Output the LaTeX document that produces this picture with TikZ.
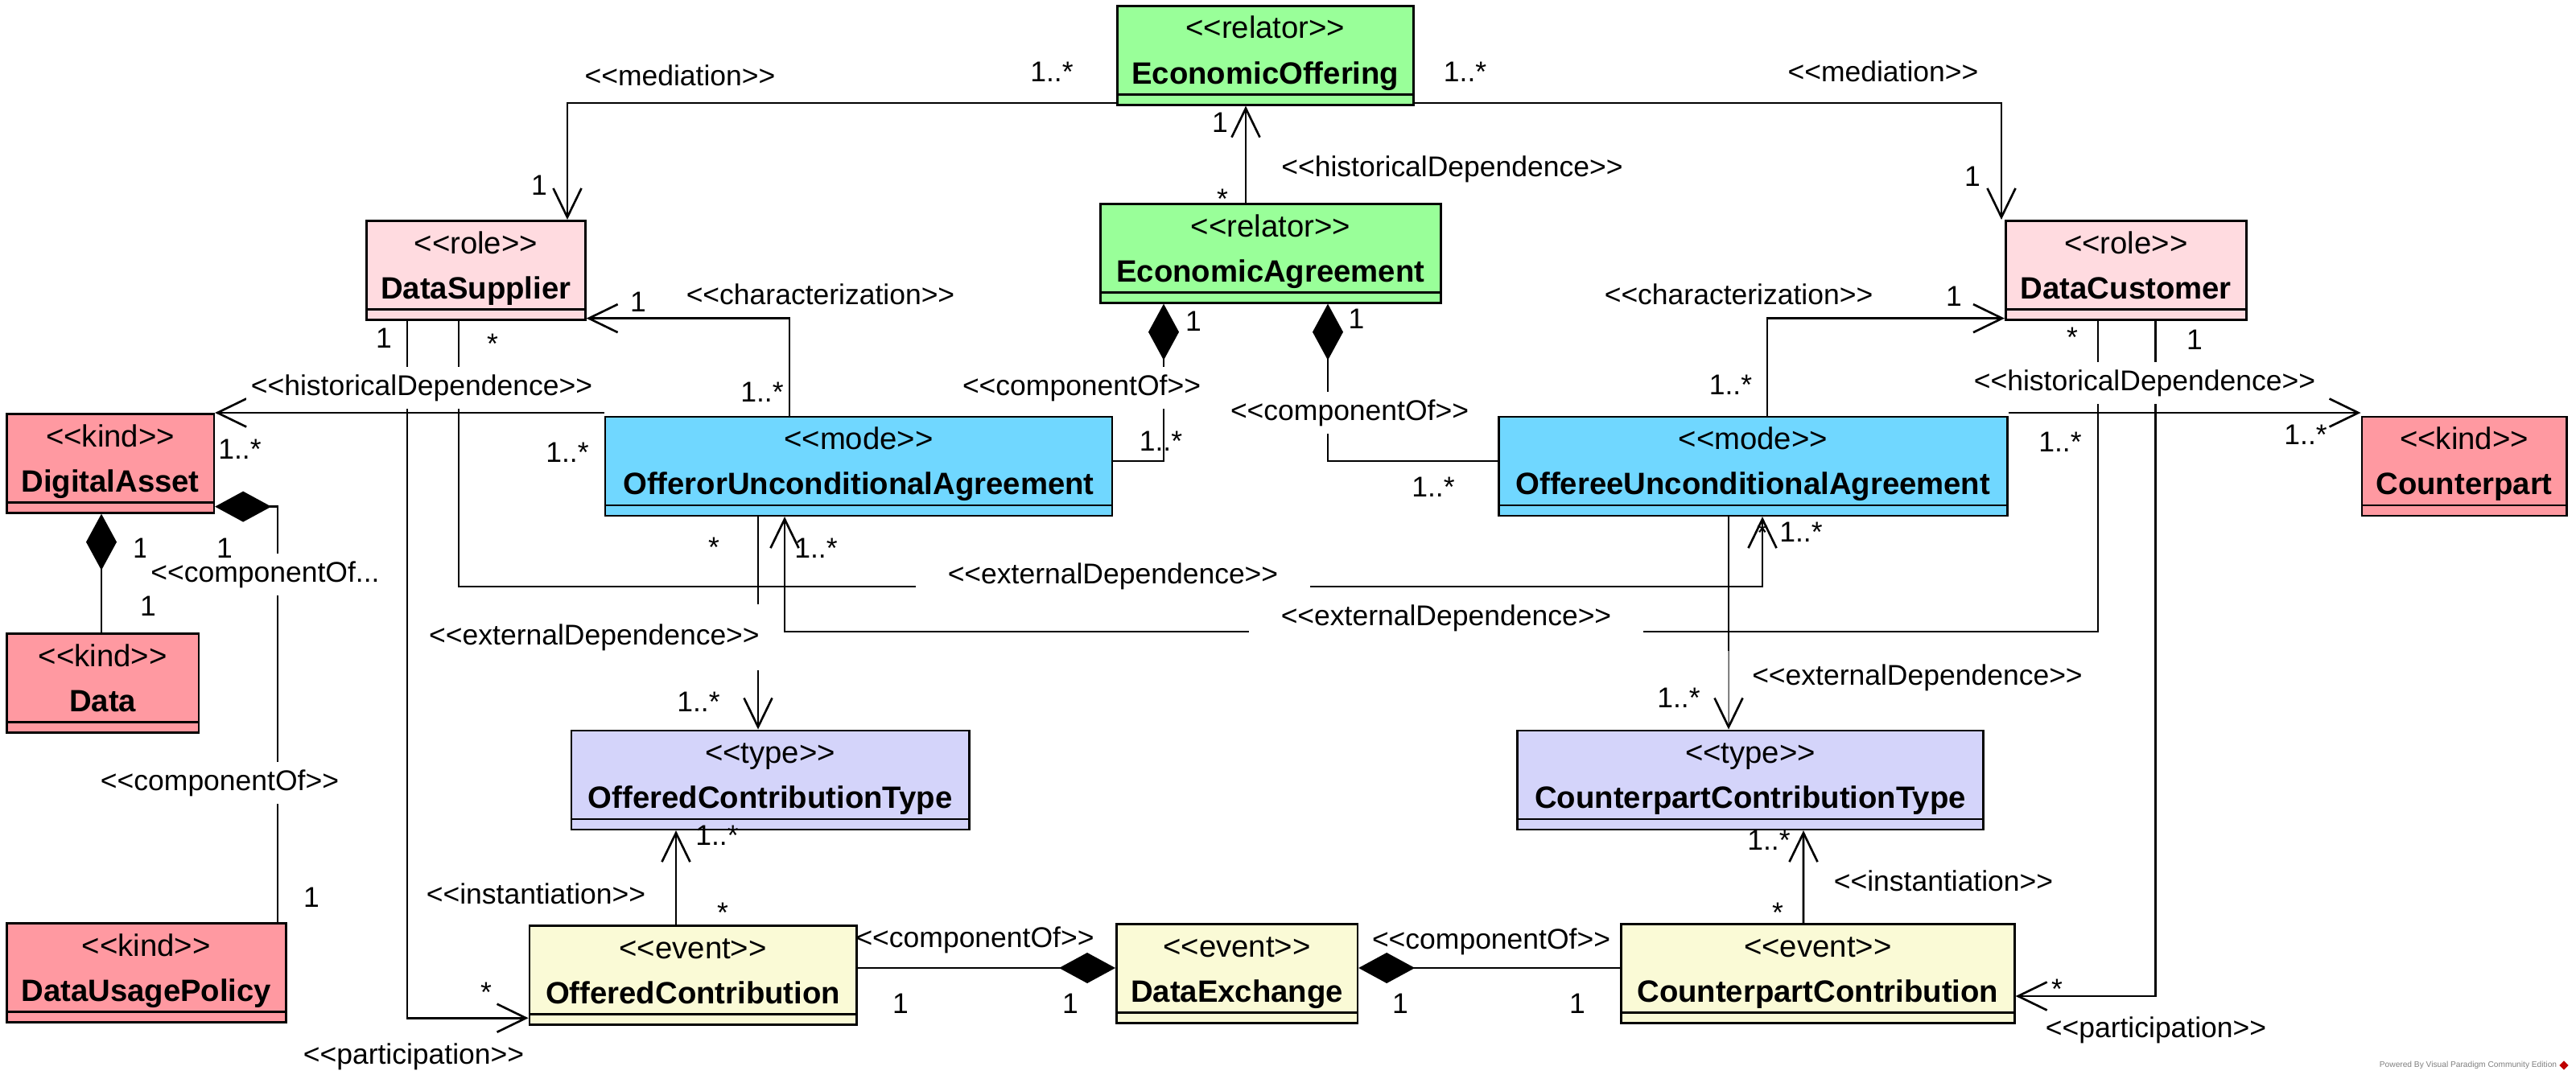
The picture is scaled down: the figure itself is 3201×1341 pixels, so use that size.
\documentclass[tikz,border=0pt]{standalone}
\usepackage{fontspec}
\setmainfont{Liberation Sans}[Ligatures=TeXOff]
\usetikzlibrary{arrows.meta,calc}

\definecolor{relgreen}{RGB}{153,255,153}
\definecolor{rolepink}{RGB}{255,219,224}
\definecolor{kindred}{RGB}{255,153,161}
\definecolor{modeblue}{RGB}{112,215,255}
\definecolor{typelav}{RGB}{212,212,250}
\definecolor{eventyel}{RGB}{250,250,214}

\tikzset{
  umlbox/.style={draw, line width=0.75pt, rectangle, inner sep=0pt,
    minimum height=12.3mm, anchor=north west},
  boxline/.style={line width=0.75pt},
  stereo/.style={anchor=base, inner sep=0pt, font=\fontsize{10.9pt}{12pt}\selectfont},
  clsname/.style={anchor=base, inner sep=0pt, font=\fontsize{10.9pt}{12pt}\selectfont\bfseries},
  conn/.style={line width=0.75pt},
  navig/.style={-{Straight Barb[length=3.6mm,width=3.5mm]}},
  compos/.style={{Diamond[length=7mm,width=3.8mm]}-},
  lbl/.style={inner sep=0pt, font=\fontsize{10.1pt}{12pt}\selectfont},
  cut/.style={fill=white, inner xsep=0.6mm, inner ysep=0.9mm},
  cutwide/.style={fill=white, inner xsep=4mm, inner ysep=0.8mm},
  cuttall/.style={fill=white, inner xsep=0.6mm, inner ysep=2.4mm},
}

% class box: name, left x, top y, width, fill, stereotype, title
\newcommand\umlclass[7]{%
  \node[umlbox,fill=#5,minimum width=#4*0.1mm] (#1) at (#2,#3) {};
  \draw[boxline] ([yshift=1.4mm]#1.south west) -- ([yshift=1.4mm]#1.south east);
  \node[stereo] (#1-st) at ([yshift=-4.2mm]#1.north) {<<#6>>};
  \node[clsname] (#1-nm) at ([yshift=-9.8mm]#1.north) {#7};
}

\begin{document}
\begin{tikzpicture}[x=0.1mm,y=-0.1mm]
\useasboundingbox[fill=white] (0,0) rectangle (3201,1341);

% ---- classes ----
\umlclass{EO}{1387}{6}{368}{relgreen}{relator}{EconomicOffering}
\umlclass{EA}{1366}{252}{423}{relgreen}{relator}{EconomicAgreement}
\umlclass{DS}{454}{273}{272}{rolepink}{role}{DataSupplier}
\umlclass{DC}{2491}{273}{299}{rolepink}{role}{DataCustomer}
\umlclass{DA}{7}{513}{257.5}{kindred}{kind}{DigitalAsset}
\umlclass{OU}{750.6}{516.5}{630}{modeblue}{mode}{OfferorUnconditionalAgreement}
\umlclass{EU}{1861}{516.5}{632}{modeblue}{mode}{OffereeUnconditionalAgreement}
\umlclass{CP}{2933.5}{516.5}{254.5}{kindred}{kind}{Counterpart}
\umlclass{DT}{7}{786}{238.5}{kindred}{kind}{Data}
\umlclass{OCT}{708.5}{906.5}{494.5}{typelav}{type}{OfferedContributionType}
\umlclass{CCT}{1884.4}{906.5}{578.6}{typelav}{type}{CounterpartContributionType}
\umlclass{DUP}{7}{1146}{347}{kindred}{kind}{DataUsagePolicy}
\umlclass{OC}{656.6}{1149}{406.4}{eventyel}{event}{OfferedContribution}
\umlclass{DX}{1386}{1147}{299.5}{eventyel}{event}{DataExchange}
\umlclass{CC}{2013}{1147}{489}{eventyel}{event}{CounterpartContribution}

% ---- mediation ----
\draw[conn,navig] ($(EO.south west)+(0,-3.5)$) -| ($(DS.north west)+(251,0)$);
\draw[conn,navig] ($(EO.south east)+(0,-3.5)$) -| ($(DC.north west)+(-4,0)$);

% ---- historical dependence ----
\draw[conn,navig] ($(EA.north west)+(182,0)$) -- ($(EO.south west)+(161,0)$);
\draw[conn,navig] ($(OU.north west)+(0,-3.5)$) -- (DA.north east);
\draw[conn,navig] ($(EU.north east)+(0,-3.5)$) -- ($(CP.north west)+(0,-3.5)$);

% ---- componentOf ----
\draw[conn,compos] ($(EA.south west)+(80,0)$) |- ($(OU.north east)+(0,56.5)$);
\draw[conn,compos] ($(EA.south west)+(284,0)$) |- ($(EU.north west)+(0,56.5)$);
\draw[conn,compos] ($(DX.north west)+(0,56)$) -- ($(OC.north east)+(0,54)$);
\draw[conn,compos] ($(DX.north east)+(0,56)$) -- ($(CC.north west)+(0,56)$);
\draw[conn,compos] ($(DA.south west)+(119,0)$) -- ($(DT.north west)+(119,0)$);
\draw[conn,compos] ($(DA.south east)+(0,-9)$) -| ($(DUP.north west)+(338,0)$);

% ---- characterization ----
\draw[conn,navig] ($(OU.north west)+(230.4,0)$) |- ($(DS.south east)+(0,-3)$);
\draw[conn,navig] ($(EU.north west)+(335,0)$) |- ($(DC.south west)+(0,-3)$);

% ---- participation ----
\draw[conn,navig] ($(DS.south west)+(52,0)$) |- ($(OC.south west)+(0,-9.4)$);
\draw[conn,navig] ($(DC.south west)+(187.6,0)$) |- ($(CC.north east)+(0,91)$);

% ---- external dependence ----
\draw[conn,navig] ($(DS.south west)+(116,0)$) |- ($(EU.south west)+(329,87)$) -- ($(EU.south west)+(329,0)$);
\draw[conn,navig] ($(DC.south west)+(116,0)$) |- ($(OU.south west)+(224.4,143)$) -- ($(OU.south west)+(224.4,0)$);
\draw[conn,navig] ($(OU.south west)+(191.4,0)$) -- ($(OCT.north west)+(233.5,0)$);
\draw[line width=0.3pt,-{Straight Barb[length=3.6mm,width=3.5mm,line width=0.75pt]}]
  ($(EU.south west)+(287,0)$) -- ($(CCT.north west)+(263.6,0)$);
\draw[conn] ($(EU.south west)+(287,0)$) -- ($(EU.south west)+(287,167)$);

% ---- instantiation ----
\draw[conn,navig] ($(OC.north west)+(183.4,0)$) -- ($(OCT.south west)+(131.5,0)$);
\draw[conn,navig] ($(CC.north west)+(228,0)$) -- ($(CCT.south west)+(356.6,0)$);

% ---- connector labels and multiplicities ----
\node[lbl] (mlA) at (1307,89) {1..*};
\node[lbl] (mlB) at (670,230) {1};
\node[lbl] (mlC) at (845,94) {<<mediation>>};
\node[lbl] (mrA) at (1820.6,89) {1..*};
\node[lbl] (mrB) at (2451,219) {1};
\node[lbl] (mrC) at (2340,89) {<<mediation>>};

\node[lbl] (hEA) at (1516,152) {1};
\node[lbl] (hEB) at (1519,247) {*};
\node[lbl] (hEC) at (1804.5,210) {<<historicalDependence>>};

\node[lbl] (cLA) at (1483,399) {1};
\node[lbl] (cLB) at (1442.5,548) {1..*};
\node[lbl,cut] (cLC) at (1344,482) {<<componentOf>>};
\node[lbl] (cRA) at (1685.5,396) {1};
\node[lbl] (cRB) at (1781,605) {1..*};
\node[lbl,cut] (cRC) at (1677,513) {<<componentOf>>};

\node[lbl] (chLA) at (793,375) {1};
\node[lbl] (chLB) at (947,487) {1..*};
\node[lbl] (chLC) at (1019.5,366) {<<characterization>>};
\node[lbl] (chRA) at (2428,368) {1};
\node[lbl] (chRB) at (2150.5,478) {1..*};
\node[lbl] (chRC) at (2160.5,366) {<<characterization>>};

\node[lbl] (hLA) at (298,558) {1..*};
\node[lbl] (hLB) at (705,562) {1..*};
\node[lbl,cut] (hLC) at (524,482) {<<historicalDependence>>};
\node[lbl] (hRA) at (2560,549) {1..*};
\node[lbl] (hRB) at (2865,540) {1..*};
\node[lbl,cut] (hRC) at (2665,476) {<<historicalDependence>>};

\node[lbl] (pLA) at (477,420) {1};
\node[lbl] (pLB) at (604,1233) {*};
\node[lbl] (pLC) at (514,1313) {<<participation>>};
\node[lbl] (pRA) at (2727,422) {1};
\node[lbl] (pRB) at (2556,1229) {*};
\node[lbl] (pRC) at (2679,1280) {<<participation>>};

\node[lbl] (eAA) at (612,427) {*};
\node[lbl] (eAB) at (2238,661) {1..*};
\node[lbl,cutwide] (eAC) at (1383,716) {<<externalDependence>>};
\node[lbl] (eBA) at (2575,419) {*};
\node[lbl] (eBB) at (1014,681) {1..*};
\node[lbl,cutwide] (eBC) at (1797,768) {<<externalDependence>>};
\node[lbl] (eCA) at (887,680) {*};
\node[lbl] (eCB) at (868,872.6) {1..*};
\node[lbl,cuttall] (eCC) at (738.5,792) {<<externalDependence>>};
\node[lbl] (eDA) at (2190,662) {*};
\node[lbl] (eDB) at (2086,867) {1..*};
\node[lbl] (eDC) at (2382.5,842.6) {<<externalDependence>>};

\node[lbl] (iLA) at (898,1134) {*};
\node[lbl] (iLB) at (891,1038) {1..*};
\node[lbl] (iLC) at (666,1110.6) {<<instantiation>>};
\node[lbl] (iRA) at (2209,1134) {*};
\node[lbl] (iRB) at (2198,1044.5) {1..*};
\node[lbl] (iRC) at (2415,1095) {<<instantiation>>};

\node[lbl] (xLA) at (1119,1247) {1};
\node[lbl] (xLB) at (1330,1247) {1};
\node[lbl] (xLC) at (1211.5,1168) {<<componentOf>>};
\node[lbl] (xRA) at (1740,1247) {1};
\node[lbl] (xRB) at (1960,1247) {1};
\node[lbl] (xRC) at (1853,1170) {<<componentOf>>};

\node[lbl] (dDA) at (175,681) {1};
\node[lbl] (dDB) at (184,753.6) {1};
\node[lbl,cut] (dDC) at (329.5,714) {<<componentOf...};
\node[lbl] (dPA) at (279,681) {1};
\node[lbl] (dPB) at (387,1115) {1};
\node[lbl,cut] (dPC) at (273,973) {<<componentOf>>};

% ---- tool credit ----
\node[inner sep=0pt, text=gray, font=\fontsize{2.9pt}{3pt}\selectfont] (credit) at (3067,1324) {Powered By Visual Paradigm Community Edition};
\node[fill=red!75!black, rotate=45, minimum size=0.8mm, inner sep=0pt] (creditlogo) at (3186,1324) {};
\end{tikzpicture}
\end{document}
